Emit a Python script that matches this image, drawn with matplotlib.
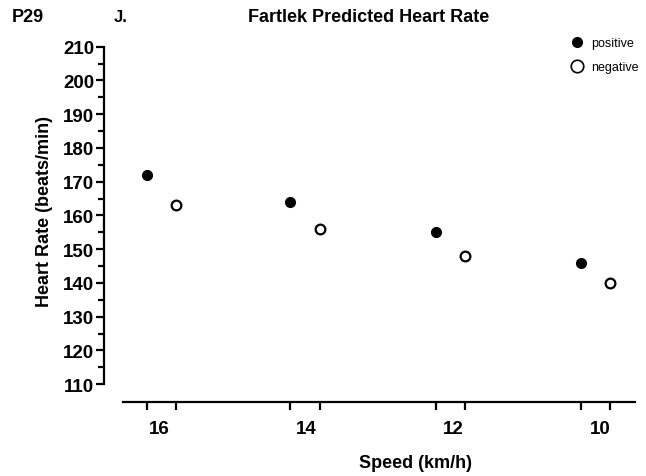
import matplotlib
matplotlib.use("Agg")
import matplotlib.pyplot as plt
from matplotlib.lines import Line2D

plt.rcParams['font.family'] = ['Liberation Sans', 'DejaVu Sans']

speed_labels = [16, 14, 12, 10]
pos_speed = [16.18, 14.22, 12.24, 10.26]
pos_hr = [172, 164, 155, 146]
neg_speed = [15.78, 13.82, 11.84, 9.86]
neg_hr = [163, 156, 148, 140]

fig = plt.figure(figsize=(6.46, 4.77), dpi=100)
W, H = 646, 477
left, right, top, bottom = 104, 635, 47.7, 403
ax = fig.add_axes([left / W, 1 - bottom / H, (right - left) / W, (bottom - top) / H])

ax.plot(pos_speed, pos_hr, 'o', color='black', markersize=7, linestyle='none')
ax.plot(neg_speed, neg_hr, 'o', markerfacecolor='white', markeredgecolor='black',
        markeredgewidth=1.6, markersize=7, linestyle='none')

ax.set_xlim(16.76, 9.52)
ax.set_ylim(104.7, 210)
ax.spines['top'].set_visible(False)
ax.spines['right'].set_visible(False)
for s in ['left', 'bottom']:
    ax.spines[s].set_linewidth(1.6)
ax.spines['left'].set_bounds(110, 210)
ax.spines['bottom'].set_bounds(16.5, 9.52)

ax.set_yticks(range(110, 211, 10))
ax.set_yticks(range(115, 210, 10), minor=True)
ax.tick_params(axis='y', which='major', length=6, width=1.6, labelsize=13.5, pad=1)
ax.tick_params(axis='y', which='minor', length=4, width=1.6)

ax.set_xticks(speed_labels)
ax.set_xticklabels([str(v) for v in speed_labels])
ax.set_xticks(pos_speed + neg_speed, minor=True)
ax.tick_params(axis='x', which='major', length=0, labelsize=13.5, pad=13)
ax.tick_params(axis='x', which='minor', length=6, width=1.6)
for lab in ax.get_xticklabels() + ax.get_yticklabels():
    lab.set_fontweight('bold')

ax.set_xlabel('Speed (km/h)', fontsize=13, fontweight='bold')
ax.xaxis.set_label_coords(0.586, -0.147)
ax.set_ylabel('Heart Rate (beats/min)', fontsize=13, fontweight='bold')
ax.yaxis.set_label_coords(-0.096, 0.54)

fig.text(12 / W, 1 - 17 / H, 'P29', fontsize=13, fontweight='bold', va='center', ha='left')
fig.text(114 / W, 1 - 17 / H, 'J.', fontsize=12, fontweight='bold', va='center', ha='left')
fig.text(369 / W, 1 - 17 / H, 'Fartlek Predicted Heart Rate', fontsize=13,
         fontweight='bold', va='center', ha='center')

handles = [
    Line2D([], [], marker='o', color='black', linestyle='none', markersize=7),
    Line2D([], [], marker='o', markerfacecolor='white', markeredgecolor='black',
           markeredgewidth=1.2, linestyle='none', markersize=9),
]
fig.legend(handles, ['positive', 'negative'], loc='upper left',
           bbox_to_anchor=(566 / W, 1 - 33 / H), frameon=False, fontsize=9,
           handletextpad=0.6, labelspacing=0.95, handlelength=1.0, borderaxespad=0)

fig.savefig('out.png', dpi=100)
